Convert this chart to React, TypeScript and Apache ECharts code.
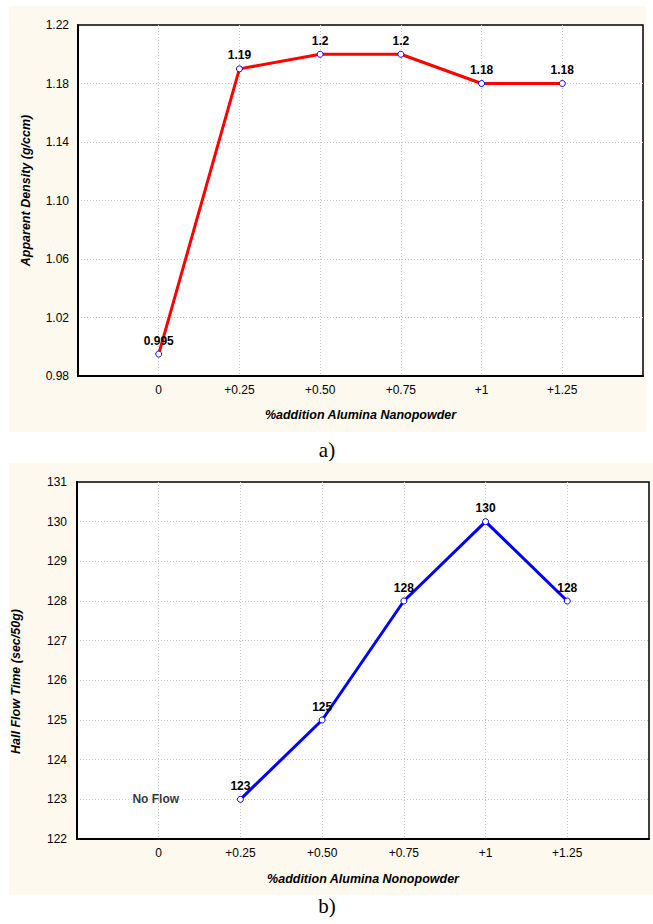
import React, { useEffect, useRef } from "react";
import * as echarts from "echarts";

const categories = ["0", "+0.25", "+0.50", "+0.75", "+1", "+1.25"];
const densityValues = [0.995, 1.19, 1.2, 1.2, 1.18, 1.18];
const flowValues: (number | null)[] = [null, 123, 125, 128, 130, 128];
const noFlowPoint = { category: "0", value: 123, text: "No Flow" };
const densityTicks = { min: 0.98, max: 1.22, interval: 0.04 };
const flowTicks = { min: 122, max: 131, interval: 1 };

const FONT = "'Liberation Sans', Arial, sans-serif";

export default function App() {
  const ref = useRef<HTMLDivElement>(null);
  useEffect(() => {
    if (!ref.current) return;
    const chart = echarts.init(ref.current, undefined, { renderer: "svg" });
    const axisCats = ["", ...categories, ""];
    const pad = (arr: (number | null)[]) => [null, ...arr, null];
    const gridLine = { show: true, showMinLine: false, showMaxLine: false, lineStyle: { color: "#c4c4c4", type: [1, 2], width: 1 } };
    const nameStyle = { fontSize: 12.5, fontStyle: "italic", fontWeight: "bold", color: "#000", fontFamily: FONT };
    const axisLine = { show: true, lineStyle: { color: "#000", width: 2 } };
    const xAxisBase = {
      type: "category",
      data: axisCats,
      boundaryGap: false,
      axisLine,
      axisTick: { show: false },
      splitLine: gridLine,
      axisLabel: { color: "#000", fontSize: 12, fontFamily: FONT, margin: 8, interval: 0 },
      nameLocation: "middle",
      nameTextStyle: nameStyle,
    };
    const yAxisBase = {
      type: "value",
      axisLine,
      axisTick: { show: false },
      splitLine: gridLine,
      nameLocation: "middle",
      nameTextStyle: nameStyle,
    };
    const labelStyle = { show: true, position: "top", distance: 4, fontSize: 12, fontWeight: "bold", color: "#000", fontFamily: FONT };
    chart.setOption({
      animation: false,
      backgroundColor: "#ffffff",
      textStyle: { fontFamily: FONT },
      graphic: [
        { type: "rect", z: -100, silent: true, shape: { x: 9, y: 6, width: 637, height: 426 }, style: { fill: "#fdf9ef" } },
        { type: "rect", z: -100, silent: true, shape: { x: 9, y: 463, width: 644, height: 432 }, style: { fill: "#fdf9ef" } },
        { type: "text", x: 327, y: 450, style: { text: "a)", fontSize: 21, fontFamily: "'Liberation Serif', 'Times New Roman', serif", fill: "#000", align: "center", verticalAlign: "middle" } },
        { type: "text", x: 327, y: 906, style: { text: "b)", fontSize: 21, fontFamily: "'Liberation Serif', 'Times New Roman', serif", fill: "#000", align: "center", verticalAlign: "middle" } },
      ],
      grid: [
        { left: 78, top: 25, right: 10, bottom: 548, show: true, backgroundColor: "#ffffff", borderColor: "#000", borderWidth: 1.5 },
        { left: 77, top: 482, right: 4, bottom: 85, show: true, backgroundColor: "#ffffff", borderColor: "#000", borderWidth: 1.5 },
      ],
      xAxis: [
        { ...xAxisBase, gridIndex: 0, name: "%addition Alumina Nanopowder", nameGap: 32 },
        { ...xAxisBase, gridIndex: 1, name: "%addition Alumina Nonopowder", nameGap: 33 },
      ],
      yAxis: [
        {
          ...yAxisBase,
          gridIndex: 0,
          min: densityTicks.min,
          max: densityTicks.max,
          interval: densityTicks.interval,
          name: "Apparent Density (g/ccm)",
          nameGap: 46,
          nameTextStyle: { ...nameStyle, padding: [0, 0, 0, 20] },
          axisLabel: { color: "#000", fontSize: 12, fontFamily: FONT, margin: 9, formatter: (v: number) => v.toFixed(2) },
        },
        {
          ...yAxisBase,
          gridIndex: 1,
          min: flowTicks.min,
          max: flowTicks.max,
          interval: flowTicks.interval,
          name: "Hall Flow Time (sec/50g)",
          nameGap: 55,
          nameTextStyle: { ...nameStyle, padding: [0, 42, 0, 0] },
          axisLabel: { color: "#000", fontSize: 12, fontFamily: FONT, margin: 10 },
        },
      ],
      series: [
        {
          type: "line",
          xAxisIndex: 0,
          yAxisIndex: 0,
          data: pad(densityValues),
          lineStyle: { color: "#ff0000", width: 3 },
          itemStyle: { color: "#ffffff", borderColor: "#0000ff", borderWidth: 1 },
          symbol: "circle",
          symbolSize: 6,
          showAllSymbol: true,
          label: labelStyle,
          z: 5,
        },
        {
          type: "line",
          xAxisIndex: 1,
          yAxisIndex: 1,
          data: pad(flowValues),
          lineStyle: { color: "#0000ff", width: 3 },
          itemStyle: { color: "#ffffff", borderColor: "#0000ff", borderWidth: 1 },
          symbol: "circle",
          symbolSize: 6,
          showAllSymbol: true,
          label: labelStyle,
          z: 5,
        },
        {
          type: "scatter",
          xAxisIndex: 1,
          yAxisIndex: 1,
          data: [[noFlowPoint.category, noFlowPoint.value]],
          symbolSize: 1,
          itemStyle: { color: "rgba(0,0,0,0)" },
          label: {
            show: true,
            position: "inside",
            offset: [-3, 0],
            formatter: noFlowPoint.text,
            fontSize: 12,
            fontWeight: "bold",
            color: "#000",
            fontFamily: FONT,
          },
        },
      ],
    });
    return () => chart.dispose();
  }, []);
  return <div ref={ref} style={{ position: "absolute", left: 0, top: 0, width: 653, height: 924 }} />;
}
